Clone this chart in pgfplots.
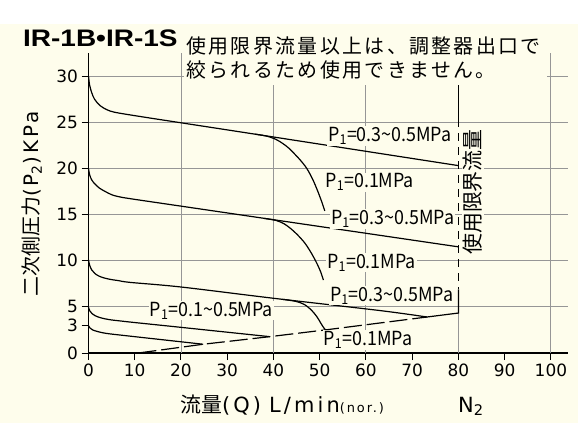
\documentclass[border=0pt]{standalone}
\usepackage{fontspec}
\setmainfont{Noto Sans CJK JP}
\newfontfamily\dvw[LetterSpace=15]{DejaVu Sans}
\newfontfamily\cjkls[LetterSpace=12]{Noto Sans CJK JP}
\newfontfamily\dv{DejaVu Sans}
\newfontfamily\ttl{Liberation Sans}
\usepackage{graphicx}
\usepackage{pgfplots}
\pgfplotsset{compat=1.18}
\definecolor{cream}{RGB}{254,253,236}
\definecolor{gridgray}{RGB}{150,150,150}
\newcommand{\fs}[1]{\fontsize{#1}{#1}\selectfont}
\newcommand{\pl}[1]{\scalebox{0.92}[1]{#1}}
\tikzset{lab/.style={fill=cream, inner sep=1bp, anchor=west, font=\fs{19.5}}}

\begin{document}
\begin{tikzpicture}[x=1bp,y=1bp]
\useasboundingbox (0,0) rectangle (578,423);
\fill[cream] (0,0) rectangle (578,399);
\fill[white] (0,399) rectangle (578,423);
\begin{axis}[
    at={(88.5bp,70bp)}, anchor=south west,
    scale only axis, width=479.5bp, height=300bp,
    xmin=0, xmax=103.7, ymin=0, ymax=32.5,
    axis lines=left, axis line style={-, line width=1.1bp},
    tick align=outside, major tick length=7bp,
    tick style={black, line width=1bp},
    xtick={0,10,...,100}, ytick={0,3,5,10,15,20,25,30},
    extra x ticks={20,40,60,100}, extra x tick labels={},
    extra x tick style={grid=major, major tick length=0pt},
    extra y ticks={5,10,...,30}, extra y tick labels={},
    extra y tick style={grid=major, major tick length=0pt},
    major grid style={gridgray, line width=0.9bp},
    /pgf/number format/assume math mode=true,
    ticklabel style={font=\dv\fs{17}},
    every axis plot/.append style={black, line width=1.2bp},
    clip=false,
]
% grid at 80 only below the curve end
\draw[gridgray, line width=0.9bp] (axis cs:80,0) -- (axis cs:80,4.33);

% top family, P1 = 0.3~0.5 MPa
\addplot[smooth, tension=0.55] coordinates {
    (0,30) (0.25,29.0) (0.7,28.2) (1.3,27.5) (2.5,26.8) (4,26.35) (5.5,26.1)
    (8.3,25.85) (14,25.4) (20,24.94) (40,23.4) (60,21.85) (80,20.3)
};
% top family, P1 = 0.1 MPa
\addplot[smooth, tension=0.5] coordinates {
    (36,23.71) (38.5,23.5) (40.5,23.15) (42,22.7) (43.3,22.2) (44.5,21.6)
    (45.8,20.9) (47.2,20.0) (48.5,18.8) (49.6,17.5) (50.5,16.3) (51.1,15.4)
};

% middle family, P1 = 0.3~0.5 MPa
\addplot[smooth, tension=0.55] coordinates {
    (0,20) (0.25,19.3) (0.7,18.75) (1.4,18.3) (2.4,17.85) (3.6,17.5) (5,17.15)
    (6.4,16.95) (9,16.72) (20,15.91) (40,14.44) (60,12.97) (80,11.5)
};
% middle family, P1 = 0.1 MPa
\addplot[smooth, tension=0.5] coordinates {
    (38,14.58) (40.5,14.37) (42.3,14.0) (43.8,13.45) (45.3,12.75) (46.8,11.9)
    (48.1,10.9) (49.3,9.8) (50.2,8.8) (50.8,7.9)
};

% bottom family, P1 = 0.3~0.5 MPa
\addplot[smooth, tension=0.55] coordinates {
    (0,10.1) (0.25,9.5) (0.7,9.0) (1.4,8.6) (2.4,8.3) (3.6,8.1) (5,7.95)
    (6.4,7.85) (9,7.65) (20,7.15) (40,5.93) (63,4.6) (73.2,3.9)
};
\addplot[sharp plot] coordinates {(73.2,3.9) (80,4.33) (80,6.9)};
% bottom family, P1 = 0.1 MPa
\addplot[smooth, tension=0.5] coordinates {
    (42,5.81) (44.8,5.6) (46.7,5.25) (48.3,4.6) (49.5,3.85) (50.4,3.1)
    (51,2.65) (51.4,2.45)
};

% P1 = 0.1~0.5 MPa
\addplot[smooth, tension=0.55] coordinates {
    (0,4.95) (0.3,4.55) (0.8,4.25) (1.4,4.05) (2.4,3.85) (3.6,3.7) (5,3.58)
    (6.4,3.5) (10,3.3) (20,2.78) (39.2,1.77)
};
\addplot[smooth, tension=0.55] coordinates {
    (0,2.95) (0.35,2.7) (0.9,2.5) (1.8,2.35) (3,2.2) (4.5,2.08) (6.4,1.97)
    (10,1.77) (24.8,0.95)
};

% flow limit (dashed)
\addplot[sharp plot, dash pattern=on 18bp off 5bp] coordinates {
    (10.8,0) (24.8,0.95) (39.2,1.77) (51.2,2.5) (73.2,3.9)
};
% usage limit line at 80
\addplot[sharp plot] coordinates {(80,32.5) (80,25.3)};
\addplot[sharp plot, dash pattern=on 8bp off 6bp] coordinates {(80,25.3) (80,6.9)};

\node[lab] at (axis cs:51.6,23.5) {\pl{P\textsubscript{1}=0.3\textasciitilde0.5MPa}};
\node[lab] at (axis cs:51.0,18.5) {\pl{P\textsubscript{1}=0.1MPa}};
\node[lab] at (axis cs:52.2,14.5) {\pl{P\textsubscript{1}=0.3\textasciitilde0.5MPa}};
\node[lab] at (axis cs:51.4,9.8) {\pl{P\textsubscript{1}=0.1MPa}};
\node[lab] at (axis cs:52.0,6.2) {\pl{P\textsubscript{1}=0.3\textasciitilde0.5MPa}};
\node[lab] at (axis cs:50.6,1.4) {\pl{P\textsubscript{1}=0.1MPa}};
\node[lab] at (axis cs:13.0,4.57) {\pl{P\textsubscript{1}=0.1\textasciitilde0.5MPa}};
\end{axis}

% title and note
\node[anchor=base west, inner sep=0] at (23,377) {\ttl\bfseries\fs{24}\scalebox{1.17}[1]{IR-1B•IR-1S}};
\fill[cream] (184,338) rectangle (547,372);
\node[anchor=base west, inner sep=0] at (186,370) {\cjkls\fs{20}使用限界流量以上は、調整器出口で};
\node[anchor=base west, inner sep=0] at (186,346) {\cjkls\fs{20}絞られるため使用できません。};

% axis titles
\node[rotate=90] at (32,219) {\fs{20}二次側圧力{\dvw(P\textsubscript{2})\hspace{3bp}KPa}};
\node[anchor=base west, inner sep=0] at (180,11) {\fs{21}流量{\dvw(Q)\hspace{8bp}L/min{\fs{13}(nor.)}}};
\node[anchor=base west, inner sep=0] at (458,11) {\fs{21}\dv N\textsubscript{2}};
\node[rotate=90, fill=cream, inner sep=1bp] at (473,231) {\fs{21}使用限界流量};
\end{tikzpicture}
\end{document}
